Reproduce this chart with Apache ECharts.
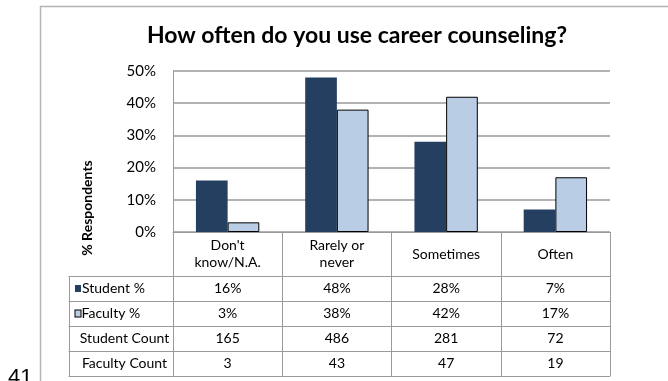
<!DOCTYPE html>
<html><head><meta charset="utf-8">
<script src="https://cdn.jsdelivr.net/npm/echarts@6/dist/echarts.min.js"></script>
<style>html,body{margin:0;padding:0;background:#fff}#c{width:668px;height:381px}</style>
</head><body><div id="c"></div>
<script>
const categories = ["Don't\nknow/N.A.", "Rarely or\nnever", "Sometimes", "Often"];
const studentPct = [16, 48, 28, 7];
const facultyPct = [3, 38, 42, 17];
const studentCount = [165, 486, 281, 72];
const facultyCount = [3, 43, 47, 19];
const rowNames = ["Student %", "Faculty %", "Student Count", "Faculty Count"];
const yMin = 0, yMax = 50, yStep = 10;
const titleText = "How often do you use career counseling?";
const yTitle = "% Respondents";
const pageNum = "41";

const FONT = 'Lato';
const GRAY = '#9a9a9a';
const STUDENT = '#243F60';
const FACULTY = '#B9CDE5';
const TFS = 14;

const rowValues = [
  studentPct.map(v => v + '%'),
  facultyPct.map(v => v + '%'),
  studentCount.map(String),
  facultyCount.map(String)
];

const mctx = document.createElement('canvas').getContext('2d');
function textW(s) { mctx.font = TFS + 'px ' + FONT; return mctx.measureText(s).width; }

const ROW0 = 44, ROWH = 25;
const HEADW = 92;
const lineStyle = { color: GRAY, width: 1 };
const xAxes = [];
xAxes.push({
  gridIndex: 0, type: 'category', position: 'bottom', data: categories,
  axisLine: { show: true, onZero: false, lineStyle },
  axisTick: { show: true, interval: 0, length: ROW0, lineStyle: { color: GRAY } },
  axisLabel: { interval: 0, margin: 22, verticalAlign: 'middle', fontFamily: FONT, fontSize: TFS, color: '#000', lineHeight: 17 }
});
rowValues.forEach((vals, i) => {
  xAxes.push({
    gridIndex: 0, type: 'category', position: 'bottom', offset: ROW0 + ROWH * i, data: vals,
    axisLine: { show: true, onZero: false, lineStyle },
    axisTick: { show: true, interval: 0, length: ROWH, lineStyle: { color: GRAY } },
    axisLabel: { interval: 0, margin: ROWH / 2, verticalAlign: 'middle', fontFamily: FONT, fontSize: TFS, color: '#000' }
  });
});
xAxes.push({
  gridIndex: 0, type: 'category', position: 'bottom', offset: ROW0 + ROWH * 4, data: categories.map(() => ''),
  axisLine: { show: true, onZero: false, lineStyle },
  axisTick: { show: false }, axisLabel: { show: false }
});
rowNames.forEach((name, i) => {
  const lead = i < 2 ? 7 : 8;
  const rich = {
    ks: { width: 6, height: 7, backgroundColor: STUDENT },
    kf: { width: 5, height: 6, backgroundColor: FACULTY, borderColor: '#000', borderWidth: 1 },
    gap: { width: 1 },
    sp: { width: 8 },
    t: { fontFamily: FONT, fontSize: TFS, color: '#000' }
  };
  rich['f' + i] = { width: Math.max(1, HEADW - lead - textW(name)) };
  xAxes.push({
    gridIndex: 1, type: 'category', position: 'bottom', offset: ROW0 + ROWH * i, data: [name],
    axisLine: { show: true, onZero: false, lineStyle },
    axisTick: { show: true, interval: 0, length: ROWH, lineStyle: { color: GRAY } },
    axisLabel: {
      interval: 0, margin: ROWH / 2, verticalAlign: 'middle', align: 'center',
      formatter: v => {
        const key = i === 0 ? '{ks| }{gap| }' : (i === 1 ? '{kf| }{gap| }' : '{sp| }');
        return key + '{t|' + v + '}{f' + i + '| }';
      },
      rich
    }
  });
});
xAxes.push({
  gridIndex: 1, type: 'category', position: 'bottom', offset: ROW0 + ROWH * 4, data: [''],
  axisLine: { show: true, onZero: false, lineStyle },
  axisTick: { show: false }, axisLabel: { show: false }
});

const chart = echarts.init(document.getElementById('c'), null, { renderer: 'canvas' });
chart.setOption({
  animation: false,
  backgroundColor: '#fff',
  title: {
    text: titleText, left: 352, top: 19, textAlign: 'center',
    textStyle: { fontFamily: FONT, fontWeight: 'bold', fontSize: 23, color: '#000' }
  },
  grid: [
    { left: 173, top: 71, width: 437, height: 161 },
    { left: 69, top: 71, width: 104, height: 161 }
  ],
  xAxis: xAxes,
  yAxis: [
    {
      gridIndex: 0, type: 'value', min: yMin, max: yMax, interval: yStep,
      axisLine: { show: true, onZero: false, lineStyle },
      axisTick: { show: false },
      axisLabel: { formatter: '{value}%', margin: 17, fontFamily: FONT, fontSize: 15, color: '#000' },
      splitLine: { show: true, lineStyle: { color: GRAY, width: 1.5 } }
    },
    { gridIndex: 1, type: 'value', show: false, min: 0, max: 1 }
  ],
  graphic: [
    { type: 'rect', shape: { x: 40.5, y: 6.5, width: 700, height: 420 }, style: { fill: 'none', stroke: '#b4b4b4', lineWidth: 1.5 }, silent: true },
    { type: 'text', x: 87, y: 208, rotation: Math.PI / 2, style: { text: yTitle, align: 'center', verticalAlign: 'middle', fontFamily: FONT, fontWeight: 'bold', fontSize: 14, fill: '#000' } },
    { type: 'text', x: 8, y: 367, style: { text: pageNum, align: 'left', verticalAlign: 'top', fontFamily: 'Liberation Sans', fontSize: 22, fill: '#000' } }
  ],
  series: [
    { name: 'Student %', type: 'bar', xAxisIndex: 0, yAxisIndex: 0, data: studentPct,
      barGap: '0%', barCategoryGap: '42%', itemStyle: { color: STUDENT } },
    { name: 'Faculty %', type: 'bar', xAxisIndex: 0, yAxisIndex: 0, data: facultyPct,
      barGap: '0%', barCategoryGap: '42%', itemStyle: { color: FACULTY, borderColor: '#000', borderWidth: 1 } }
  ]
});
</script></body></html>
